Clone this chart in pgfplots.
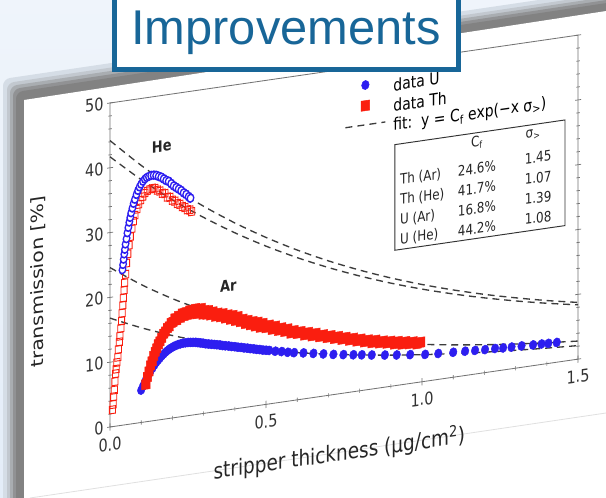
\documentclass[border=0pt]{standalone}
\usepackage{pgfplots}
\pgfplotsset{compat=1.18}
\usepackage{fontspec}
\setmainfont{DejaVu Sans}
\newfontfamily\titlefont{Liberation Sans}
\definecolor{titleblue}{RGB}{24,102,152}
\definecolor{bgblue}{RGB}{228,237,248}
\definecolor{shadowgray}{RGB}{130,130,130}
\definecolor{datablue}{RGB}{45,30,240}
\definecolor{datared}{RGB}{250,30,15}
\definecolor{fitgray}{RGB}{60,60,60}
\pgfplotsset{
  markleg/.style={legend image code/.code={\draw[mark repeat=2,mark phase=2,##1] plot coordinates {(0bp,5bp) (20bp,5bp) (40bp,5bp)};\path (46bp,5bp);}},
  lineleg/.style={legend image code/.code={\draw[##1] (0bp,5bp) -- (40bp,5bp);\path (46bp,5bp);}},
}

\pgfplotstableread{
x y
0.008 2.6
0.010 3.4
0.012 4.6
0.014 5.6
0.016 6.9
0.018 8.1
0.020 8.8
0.022 9.8
0.025 10.6
0.027 11.8
0.030 12.9
0.032 13.8
0.035 15.0
0.037 16.1
0.039 17.3
0.041 18.5
0.043 19.6
0.045 20.8
0.047 21.9
0.050 23.2
0.053 24.9
0.057 26.3
0.061 27.6
0.065 28.9
0.070 30.1
0.075 31.2
0.080 32.1
0.086 33.0
0.092 33.7
0.098 34.3
0.105 34.8
0.112 35.3
0.120 35.6
0.128 35.8
0.136 35.9
0.144 35.8
0.152 35.5
0.160 35.3
0.168 34.9
0.176 34.8
0.184 34.2
0.192 34.1
0.200 33.6
0.208 33.4
0.216 33.0
0.224 32.8
0.232 32.4
0.240 32.2
0.248 31.8
0.256 31.7
0.262 31.4
}\ThHe

\pgfplotstableread{
x y
0.040 24.0
0.042 24.8
0.044 25.6
0.046 26.4
0.048 27.1
0.050 27.9
0.053 28.7
0.056 29.6
0.059 30.4
0.062 31.2
0.065 31.9
0.068 32.6
0.072 33.3
0.076 34.0
0.080 34.6
0.085 35.3
0.090 35.9
0.095 36.4
0.100 36.8
0.106 37.2
0.112 37.5
0.118 37.7
0.125 37.8
0.132 37.9
0.140 37.9
0.148 37.8
0.156 37.6
0.164 37.4
0.172 37.1
0.180 36.8
0.188 36.6
0.196 36.2
0.204 35.8
0.212 35.5
0.220 35.2
0.228 34.9
0.236 34.5
0.244 34.2
0.252 33.8
0.258 33.5
}\UHe

\pgfplotstableread{
x y
0.100 5.0
0.105 5.5
0.110 6.0
0.115 6.5
0.120 6.9
0.125 7.3
0.130 7.7
0.136 8.1
0.142 8.5
0.148 8.9
0.154 9.2
0.160 9.5
0.166 9.8
0.172 10.05
0.178 10.3
0.184 10.5
0.190 10.7
0.197 10.85
0.204 11.0
0.211 11.1
0.218 11.2
0.226 11.25
0.234 11.3
0.242 11.3
0.250 11.3
0.258 11.25
0.266 11.2
0.274 11.15
0.282 11.05
0.290 10.95
0.298 10.85
0.307 10.7
0.316 10.6
0.325 10.5
0.334 10.4
0.343 10.3
0.352 10.2
0.361 10.05
0.370 9.95
0.380 9.85
0.390 9.7
0.400 9.6
0.410 9.45
0.420 9.35
0.430 9.2
0.440 9.1
0.450 8.95
0.460 8.85
0.470 8.7
0.480 8.6
0.490 8.45
0.500 8.35
0.510 8.25
0.530 8.0
0.550 7.8
0.570 7.55
0.590 7.35
0.620 7.1
0.652 6.8
0.684 6.5
0.716 6.2
0.748 5.95
0.780 5.7
0.807 5.5
0.839 5.25
0.881 4.95
0.919 4.7
0.962 4.45
1.010 4.15
1.052 4.0
1.100 3.85
1.138 3.75
1.170 3.65
1.202 3.55
1.234 3.5
1.260 3.4
1.287 3.35
1.319 3.3
1.356 3.2
1.383 3.15
1.405 3.1
1.432 3.05
}\UAr

\pgfplotstableread{
x y
0.115 5.8
0.120 6.9
0.125 7.7
0.130 8.6
0.135 9.2
0.140 10.0
0.145 10.6
0.150 11.1
0.155 11.7
0.160 12.1
0.166 12.6
0.172 13.2
0.178 13.5
0.184 14.0
0.190 14.2
0.196 14.7
0.202 14.8
0.208 15.3
0.214 15.0
0.220 15.6
0.226 15.3
0.232 15.9
0.238 15.5
0.244 16.0
0.250 15.6
0.256 16.2
0.262 15.7
0.268 15.9
0.274 16.3
0.280 15.6
0.286 15.9
0.292 16.2
0.298 15.4
0.304 15.8
0.310 15.3
0.316 15.7
0.322 15.1
0.330 15.4
0.338 14.8
0.346 15.1
0.354 14.6
0.362 14.9
0.370 14.3
0.378 14.6
0.386 14.0
0.394 14.4
0.402 13.7
0.410 14.1
0.418 13.4
0.426 13.6
0.434 13.0
0.442 13.3
0.450 12.7
0.458 13.0
0.466 12.4
0.474 12.8
0.482 12.1
0.490 12.5
0.500 11.9
0.510 12.1
0.520 11.5
0.530 11.8
0.540 11.2
0.550 11.4
0.560 10.9
0.570 11.1
0.580 10.5
0.590 10.7
0.600 10.3
0.612 10.4
0.624 9.9
0.636 10.1
0.648 9.6
0.660 9.8
0.672 9.3
0.684 9.4
0.696 9.0
0.708 9.1
0.720 8.7
0.732 8.8
0.744 8.4
0.756 8.5
0.768 8.1
0.780 8.2
0.792 7.8
0.804 7.9
0.816 7.5
0.828 7.6
0.840 7.2
0.852 7.4
0.864 7.0
0.876 7.1
0.888 6.8
0.900 6.9
0.912 6.5
0.924 6.7
0.936 6.3
0.948 6.5
0.960 6.2
0.972 6.3
0.984 6.0
0.996 6.1
}\ThAr

\pgfplotstableread{
x uhe thhe thar uar
0.0 44.20 41.70 24.60 16.80
0.1 39.67 37.47 21.28 14.62
0.2 35.61 33.66 18.41 12.72
0.3 31.97 30.25 15.92 11.07
0.4 28.70 27.18 13.77 9.63
0.5 25.76 24.42 11.91 8.38
0.6 23.12 21.95 10.31 7.30
0.7 20.75 19.72 8.92 6.35
0.8 18.63 17.72 7.71 5.53
0.9 16.72 15.92 6.67 4.81
1.0 15.01 14.30 5.77 4.18
1.1 13.47 12.85 4.99 3.64
1.2 12.09 11.55 4.32 3.17
1.3 10.86 10.38 3.73 2.76
1.4 9.74 9.32 3.23 2.40
1.5 8.75 8.38 2.79 2.09
}\Fits

\begin{document}
\begin{tikzpicture}[x=1bp,y=1bp]
\path[use as bounding box] (0,0) rectangle (606,498);
\clip (0,0) rectangle (606,498);
\shade[top color=bgblue!60!white, bottom color=bgblue] (0,0) rectangle (606,498);
\foreach \d/\c in {21/15,17/35,14/60,11/85,8/100}{
  \fill[shadowgray!\c!bgblue, rounded corners=7] ({24-\d},-10) -- ({24-\d},{398+\d}) -- (620,{489+\d}) -- (620,-10) -- cycle;
}
\fill[white] (24,-10) -- (24,398) -- (620,489.1) -- (620,-10) -- cycle;
\draw[black!12, line width=0.8bp] (30,0) -- (606,85);

\pgfinterruptboundingbox
\begin{scope}[transform canvas={cm={1,0.145,0,1.2,(110bp,71bp)}}]
\begin{axis}[
  at={(0bp,0bp)}, anchor=south west,
  scale only axis, width=468bp, height=270bp,
  xmin=0, xmax=1.5, ymin=0, ymax=50,
  xtick={0,0.5,1,1.5}, ytick={0,10,20,30,40,50},
  minor x tick num=4, minor y tick num=4,
  xtick pos=left, ytick pos=both,
  tick align=center,
  major tick length=6bp, minor tick length=3.5bp,
  axis line style={black!55, line width=0.7bp},
  tick style={black!55, line width=0.6bp},
  tick label style={font=\fontsize{14.5}{16}\selectfont, text=black!80},
  /pgf/number format/assume math mode=true,
  xticklabel style={yshift=-2.5bp, /pgf/number format/fixed, /pgf/number format/fixed zerofill, /pgf/number format/precision=1},
  xlabel={stripper thickness (µg/cm\textsuperscript{2})},
  ylabel={transmission [\%]},
  xlabel style={font=\fontsize{18.5}{21}\selectfont, text=black!85, at={(axis description cs:0.49,-0.185)}, anchor=center},
  ylabel style={font=\fontsize{17}{19}\selectfont, text=black!85, at={(axis description cs:-0.154,0.48)}, anchor=center},
  clip=false,
  legend style={draw=none, fill=none, at={(axis cs:0.752,47.8)}, anchor=north west,
    font=\fontsize{14}{16}\selectfont, row sep=0pt, inner sep=0pt,
    nodes={inner sep=1.5bp, text height=10bp, text depth=3bp}},
  legend cell align=left,
]
\addplot[only marks, mark=square, mark size=3.1bp, color=datared, line width=0.8bp, forget plot] table[x=x,y=y] {\ThHe};
\addplot[only marks, mark=*, mark size=3.3bp, mark options={draw=datablue, fill=white, line width=1.3bp}, forget plot] table[x=x,y=y] {\UHe};
\addplot[only marks, mark=*, mark size=3.8bp, color=datablue, markleg] table[x=x,y=y] {\UAr};
\addlegendentry{data U}
\addplot[only marks, mark=square*, mark size=4.2bp, color=datared, markleg] table[x=x,y=y] {\ThAr};
\addlegendentry{data Th}
\addplot[fitgray, line width=1.1bp, dash pattern=on 7bp off 5bp, smooth, lineleg] table[x=x,y=uhe] {\Fits};
\addlegendentry{fit:\ \ y = C\textsubscript{f} exp(−x σ\textsubscript{>})}
\addplot[fitgray, line width=1.1bp, dash pattern=on 7bp off 5bp, smooth, forget plot] table[x=x,y=thhe] {\Fits};
\addplot[fitgray, line width=1.1bp, dash pattern=on 7bp off 5bp, smooth, forget plot] table[x=x,y=thar] {\Fits};
\addplot[fitgray, line width=1.1bp, dash pattern=on 7bp off 5bp, smooth, forget plot] table[x=x,y=uar] {\Fits};

\node[font=\bfseries\fontsize{13}{13}\selectfont, text=black!85] at (axis cs:0.166,42.2) {He};
\node[font=\bfseries\fontsize{13}{13}\selectfont, text=black!85] at (axis cs:0.379,19.1) {Ar};

\draw[black!80, line width=0.8bp] (axis cs:0.913,20.9) rectangle (axis cs:1.458,37.2);
\begin{scope}[every node/.style={font=\fontsize{12}{14}\selectfont, text=black!85, inner sep=0pt}]
\node at (axis cs:1.176,35.7) {C\textsubscript{f}};
\node at (axis cs:1.356,35.6) {σ\textsubscript{>}};
\node[anchor=west] at (axis cs:0.929,31.6) {Th (Ar)};
\node[anchor=west] at (axis cs:0.929,28.5) {Th (He)};
\node[anchor=west] at (axis cs:0.929,25.4) {U (Ar)};
\node[anchor=west] at (axis cs:0.929,22.4) {U (He)};
\node at (axis cs:1.176,31.7) {24.6\%};
\node at (axis cs:1.176,28.6) {41.7\%};
\node at (axis cs:1.176,25.5) {16.8\%};
\node at (axis cs:1.176,22.4) {44.2\%};
\node at (axis cs:1.372,32.0) {1.45};
\node at (axis cs:1.372,28.9) {1.07};
\node at (axis cs:1.372,25.8) {1.39};
\node at (axis cs:1.372,22.7) {1.08};
\end{scope}
\end{axis}
\end{scope}
\endpgfinterruptboundingbox

\draw[titleblue, line width=4.6bp, fill=white] (114.3,428.3) rectangle (458.7,510);
\node[text=titleblue, font=\titlefont\fontsize{49}{49}\selectfont, anchor=base, inner sep=0pt] at (286,453.5) {Improvements};
\end{tikzpicture}
\end{document}
